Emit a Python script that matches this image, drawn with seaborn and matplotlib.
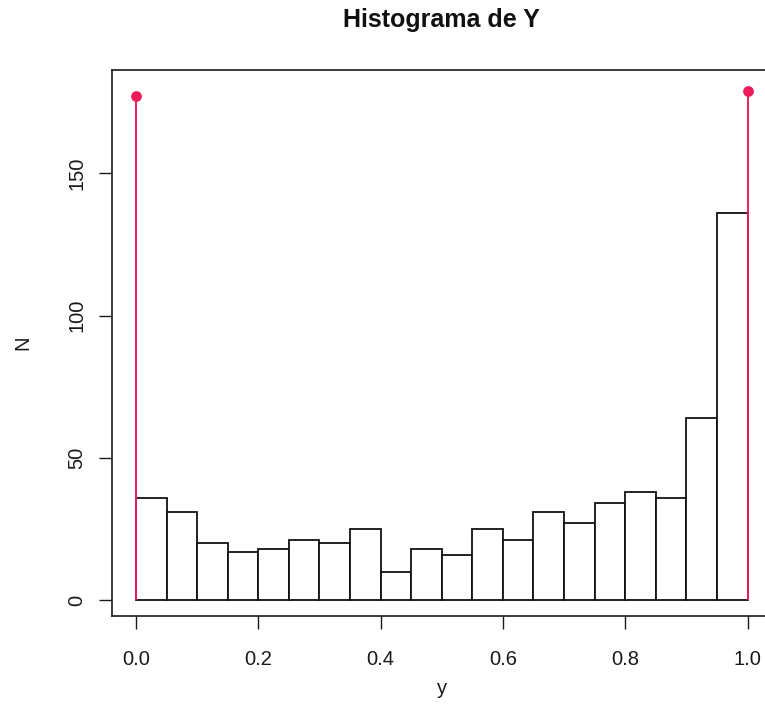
import numpy as np
import pandas as pd
import matplotlib
matplotlib.use("Agg")
import matplotlib.pyplot as plt
import seaborn as sns

# Histogram of the continuous part of Y (20 bins of width 0.05 on [0, 1])
bin_edges = [0.00, 0.05, 0.10, 0.15, 0.20, 0.25, 0.30, 0.35, 0.40, 0.45, 0.50,
             0.55, 0.60, 0.65, 0.70, 0.75, 0.80, 0.85, 0.90, 0.95, 1.00]
bin_counts = [36, 31, 20, 17, 18, 21, 20, 25, 10, 18,
              16, 25, 21, 31, 27, 34, 38, 36, 64, 136]

# Point masses at the boundaries
spike_x = [0.0, 1.0]
spike_counts = [177, 179]

x_ticks = [0.0, 0.2, 0.4, 0.6, 0.8, 1.0]
x_tick_labels = ["0.0", "0.2", "0.4", "0.6", "0.8", "1.0"]
y_ticks = [0, 50, 100, 150]

sns.set_style("white")
plt.rcParams["font.family"] = ["Liberation Sans", "DejaVu Sans"]

W, H = 765, 722
fig = plt.figure(figsize=(W / 100, H / 100), dpi=100)
left, right, top, bottom = 111.5, 772.0, 70.0, 616.0
ax = fig.add_axes([left / W, 1 - bottom / H, (right - left) / W, (bottom - top) / H])

edges = np.array(bin_edges)
centers = (edges[:-1] + edges[1:]) / 2
df = pd.DataFrame({"y": centers, "n": bin_counts})

sns.histplot(data=df, x="y", weights="n", bins=list(bin_edges), ax=ax,
             color="white", edgecolor="#111111", linewidth=1.3, alpha=1.0)

red = "#EC1C5B"
ax.vlines(spike_x, 0, spike_counts, colors=red, linewidth=1.4, zorder=3)
sns.scatterplot(x=spike_x, y=spike_counts, ax=ax, color=red, s=60,
                edgecolor=red, linewidth=0, zorder=4)

ax.set_xlim(-0.04, 1.04)
ax.set_ylim(-5.6, 186.3)

ax.set_xticks(x_ticks)
ax.set_xticklabels(x_tick_labels)
ax.set_yticks(y_ticks)
ax.tick_params(axis="both", direction="out", length=9.5, width=1.0,
               bottom=True, left=True,
               color="#1a1a1a", labelsize=14.5, labelcolor="#1a1a1a")
ax.tick_params(axis="x", pad=15)
ax.tick_params(axis="y", pad=8.5, labelrotation=90)
for lab in ax.get_yticklabels():
    lab.set_verticalalignment("center")

for s in ax.spines.values():
    s.set_visible(True)
    s.set_color("#1a1a1a")
    s.set_linewidth(1.2)

ax.set_xlabel("y", fontsize=14.5, color="#1a1a1a")
ax.set_ylabel("N", fontsize=14.5, color="#1a1a1a")
ax.xaxis.set_label_coords(0.5, -0.1155)
ax.yaxis.set_label_coords(-0.1204, 0.5)
ax.set_title("Histograma de Y", fontsize=18, fontweight="bold",
             color="#111111", y=1.0916, va="center", pad=0)

fig.savefig("out.png", dpi=100, facecolor="white")
